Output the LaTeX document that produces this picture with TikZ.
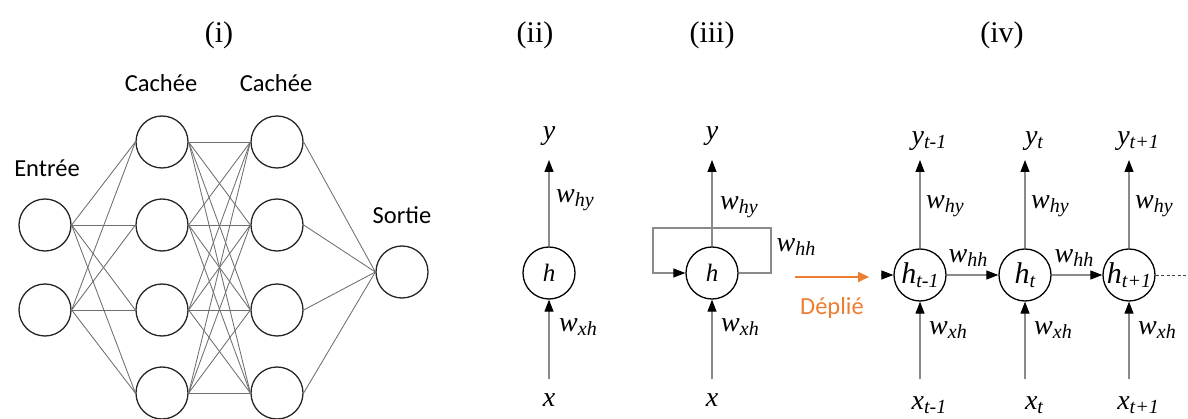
\documentclass[tikz,border=0pt]{standalone}
\usepackage{fontspec}
\setmainfont{Carlito}
\newfontfamily\tnr{Liberation Serif}
\usetikzlibrary{arrows.meta}
\definecolor{orangeA}{HTML}{ED7D31}
\definecolor{edgegray}{HTML}{6E6E6E}
\definecolor{flowgray}{HTML}{8A8A8A}
\newcommand{\ml}[2]{{\tnr\itshape\fontsize{28}{28}\selectfont #1\raisebox{-4pt}{\fontsize{20}{20}\selectfont #2}}}
\newcommand{\hl}[2]{{\tnr\itshape\fontsize{30}{30}\selectfont #1\raisebox{-4pt}{\fontsize{20}{20}\selectfont #2}}}
\newcommand{\hs}{{\tnr\itshape\fontsize{25}{25}\selectfont h}}
\begin{document}
\begin{tikzpicture}[x=1pt,y=-1pt,
 neuron/.style={circle,draw=black!85,line width=1.3pt,minimum size=52pt,inner sep=0pt},
 rnn/.style={circle,draw=black,line width=1.3pt,minimum size=52pt,inner sep=0pt},
 wire/.style={draw=edgegray,line width=0.85pt},
 flow/.style={draw=flowgray,line width=1.1pt,-{Triangle[length=12pt,width=9pt,color=black]}},
 lbl/.style={font=\fontsize{24.5}{24.5}\selectfont,inner sep=0pt},
 ttl/.style={font=\tnr\fontsize{30}{30}\selectfont,inner sep=0pt},
 mlab/.style={inner sep=0pt},
 ]
\useasboundingbox (0,0) rectangle (1188,419);
% titles
\node[ttl] (t1) at (219,35) {(i)};
\node[ttl] (t2) at (535,35) {(ii)};
\node[ttl] (t3) at (712,35) {(iii)};
\node[ttl] (t4) at (1002,35) {(iv)};
% feedforward network
\node[neuron] (in1) at (45,225) {};
\node[neuron] (in2) at (45,310) {};
\foreach \k/\yy in {1/142,2/225,3/310,4/393}{
  \node[neuron] (ha\k) at (162,\yy) {};
  \node[neuron] (hb\k) at (277,\yy) {};
}
\node[neuron] (out) at (402,272) {};
\foreach \i in {1,2}{\foreach \j in {1,...,4}{\draw[wire] (in\i.east) -- (ha\j.west);}}
\foreach \i in {1,...,4}{\foreach \j in {1,...,4}{\draw[wire] (ha\i.east) -- (hb\j.west);}}
\foreach \i in {1,...,4}{\draw[wire] (hb\i.east) -- (out.west);}
\node[lbl] (lc1) at (161,83) {Cachée};
\node[lbl] (lc2) at (276,83) {Cachée};
\node[lbl] (le) at (47,168) {Entrée};
\node[lbl] (ls) at (402,215) {Sortie};
% (ii)
\node[rnn] (r2) at (549,273) {\hs};
\coordinate (r2top) at (549,160);
\coordinate (r2bot) at (549,379);
\node[mlab] (y2) at (549,136) {\ml{y}{}};
\node[mlab] (x2) at (549,402) {\ml{x}{}};
\draw[flow] (r2.north) -- (r2top);
\draw[flow] (r2bot) -- (r2.south);
\node[mlab] (w2a) at (575,200) {\ml{w}{hy}};
\node[mlab] (w2b) at (578,327) {\ml{w}{xh}};
% (iii)
\node[rnn] (r3) at (712,273) {\hs};
\coordinate (r3top) at (712,160);
\coordinate (r3bot) at (712,379);
\coordinate (L1) at (771,228);
\coordinate (L2) at (653,228);
\node[mlab] (y3) at (712,136) {\ml{y}{}};
\node[mlab] (x3) at (712,402) {\ml{x}{}};
\draw[flow] (r3.east) -| (L1) -- (L2) |- (r3.west);
\draw[flow] (r3.north) -- (r3top);
\draw[flow] (r3bot) -- (r3.south);
\node[mlab] (w3a) at (739,207) {\ml{w}{hy}};
\node[mlab] (w3c) at (796,247) {\ml{w}{hh}};
\node[mlab] (w3b) at (740,327) {\ml{w}{xh}};
% unfold arrow
\coordinate (oa) at (795,277);
\coordinate (ob) at (869,277);
\draw[draw=orangeA,line width=1.8pt,-{Triangle[length=11pt,width=10pt,color=orangeA]}] (oa) -- (ob);
\node[lbl,text=orangeA] (dep) at (832,308) {Déplié};
% (iv)
\node[rnn] (h1) at (920,275) {\hl{h}{t-1}};
\node[rnn] (h2) at (1025,275) {\hl{h}{t}};
\node[rnn] (h3) at (1129,275) {\hl{h}{t+1}};
\coordinate (hin) at (881,275);
\coordinate (dend) at (1188,275);
\draw[flow] (hin) -- (h1.west);
\draw[flow] (h1.east) -- (h2.west);
\draw[flow] (h2.east) -- (h3.west);
\draw[draw=black!75,line width=0.8pt,dash pattern=on 3pt off 2.5pt] (h3.east) -- (dend);
\foreach \n/\xx/\s in {1/920/t-1,2/1025/t,3/1129/t+1}{
  \coordinate (ht\n) at (\xx,160);
  \coordinate (hb\n) at (\xx,379);
  \draw[flow] (h\n.north) -- (ht\n);
  \draw[flow] (hb\n) -- (h\n.south);
  \node[mlab] (yy\n) at (\xx+9,141) {\ml{y}{\s}};
  \node[mlab] (xx\n) at (\xx+9,405) {\ml{x}{\s}};
  \node[mlab] (wy\n) at (\xx+25,206) {\ml{w}{hy}};
  \node[mlab] (wx\n) at (\xx+28,330) {\ml{w}{xh}};
}
\node[mlab] (wh1) at (968,258) {\ml{w}{hh}};
\node[mlab] (wh2) at (1074,258) {\ml{w}{hh}};
\end{tikzpicture}
\end{document}
